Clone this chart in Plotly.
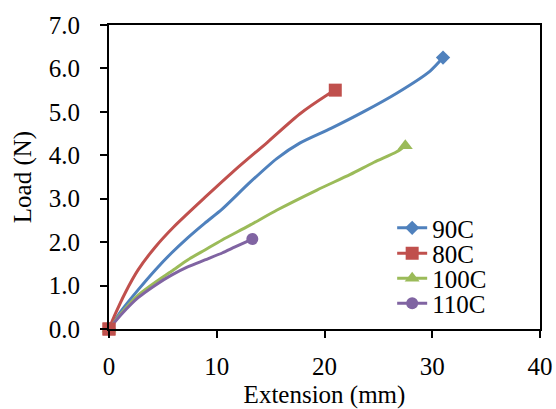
import plotly.graph_objects as go

x_90 = [0, 1.2, 2.7, 4.3, 5.8, 7.3, 8.9, 10.5, 13.1, 15.6, 17.7, 20.6, 23.6, 26.7, 29.8, 31.0]
y_90 = [0, 0.44, 0.9, 1.36, 1.75, 2.1, 2.44, 2.76, 3.38, 3.93, 4.28, 4.62, 5.0, 5.43, 5.94, 6.25]

x_80 = [0, 0.5, 1.5, 2.7, 4.3, 6.0, 8.9, 11.5, 14.7, 17.7, 20.2, 21.0]
y_80 = [0, 0.3, 0.83, 1.36, 1.89, 2.35, 3.03, 3.62, 4.3, 4.95, 5.38, 5.5]

x_100 = [0, 1.2, 2.7, 4.3, 5.8, 7.3, 8.9, 10.5, 13.0, 15.6, 19.3, 22.4, 24.6, 26.7, 27.5]
y_100 = [0, 0.38, 0.78, 1.08, 1.33, 1.59, 1.82, 2.05, 2.38, 2.74, 3.2, 3.56, 3.84, 4.08, 4.22]

x_110 = [0, 1.2, 2.7, 4.3, 5.8, 7.3, 8.9, 10.5, 11.7, 13.3]
y_110 = [0, 0.35, 0.72, 1.01, 1.24, 1.43, 1.59, 1.75, 1.89, 2.07]

names = ["90C", "80C", "100C", "110C"]
colors = ["#4F81BD", "#C0504D", "#9BBB59", "#8064A2"]
symbols = ["diamond", "square", "triangle-up", "circle"]
sizes = [11, 13, 13, 12]
xs = [x_90, x_80, x_100, x_110]
ys = [y_90, y_80, y_100, y_110]
legend_ids = ["legend", "legend2", "legend3", "legend4"]
legend_y = [0.332, 0.248, 0.166, 0.084]

font = dict(family="Liberation Serif, Times New Roman, serif", size=25, color="black")

fig = go.Figure()
for i in range(4):
    n = len(xs[i])
    mcol = [colors[i]] + ["rgba(0,0,0,0)"] * (n - 2) + [colors[i]]
    fig.add_trace(go.Scatter(
        x=xs[i], y=ys[i], name=names[i], mode="lines+markers",
        line=dict(color=colors[i], width=3, shape="spline", smoothing=0.7),
        marker=dict(symbol=symbols[i], size=sizes[i], color=mcol, line=dict(width=0)),
        cliponaxis=False, legend=legend_ids[i],
    ))
# red origin marker on top
fig.add_trace(go.Scatter(x=[x_80[0]], y=[y_80[0]], mode="markers", showlegend=False,
                         marker=dict(symbol="square", size=13, color=colors[1]),
                         cliponaxis=False, hoverinfo="skip"))

layout_legends = {}
for i in range(4):
    layout_legends[legend_ids[i]] = dict(
        x=0.657, y=legend_y[i], xanchor="left", yanchor="middle",
        bgcolor="rgba(0,0,0,0)", font=font, borderwidth=0,
    )

fig.update_layout(
    width=556, height=409,
    margin=dict(l=109, r=16, t=25, b=80, autoexpand=False),
    paper_bgcolor="white", plot_bgcolor="white",
    font=font,
    **layout_legends,
)
fig.update_xaxes(
    range=[0, 40], dtick=10, tick0=0, showgrid=False, zeroline=False,
    showline=True, linecolor="black", linewidth=2, mirror=True,
    ticks="outside", ticklen=7, tickwidth=2, tickcolor="black",
    title=dict(text="Extension (mm)", font=font, standoff=13),
    tickfont=font, ticklabelstandoff=7, automargin=False,
)
fig.update_yaxes(
    range=[0, 7], dtick=1, tick0=0, tickformat=".1f", showgrid=False, zeroline=False,
    showline=True, linecolor="black", linewidth=2, mirror=True,
    ticks="outside", ticklen=7, tickwidth=2, tickcolor="black",
    title=dict(text="Load (N)", font=font, standoff=10),
    tickfont=font, ticklabelstandoff=15, automargin=False,
)
fig.write_html(
    "out.html",
    config={"displayModeBar": False},
    post_script="document.body.style.margin='0';document.body.style.overflow='hidden';",
)
